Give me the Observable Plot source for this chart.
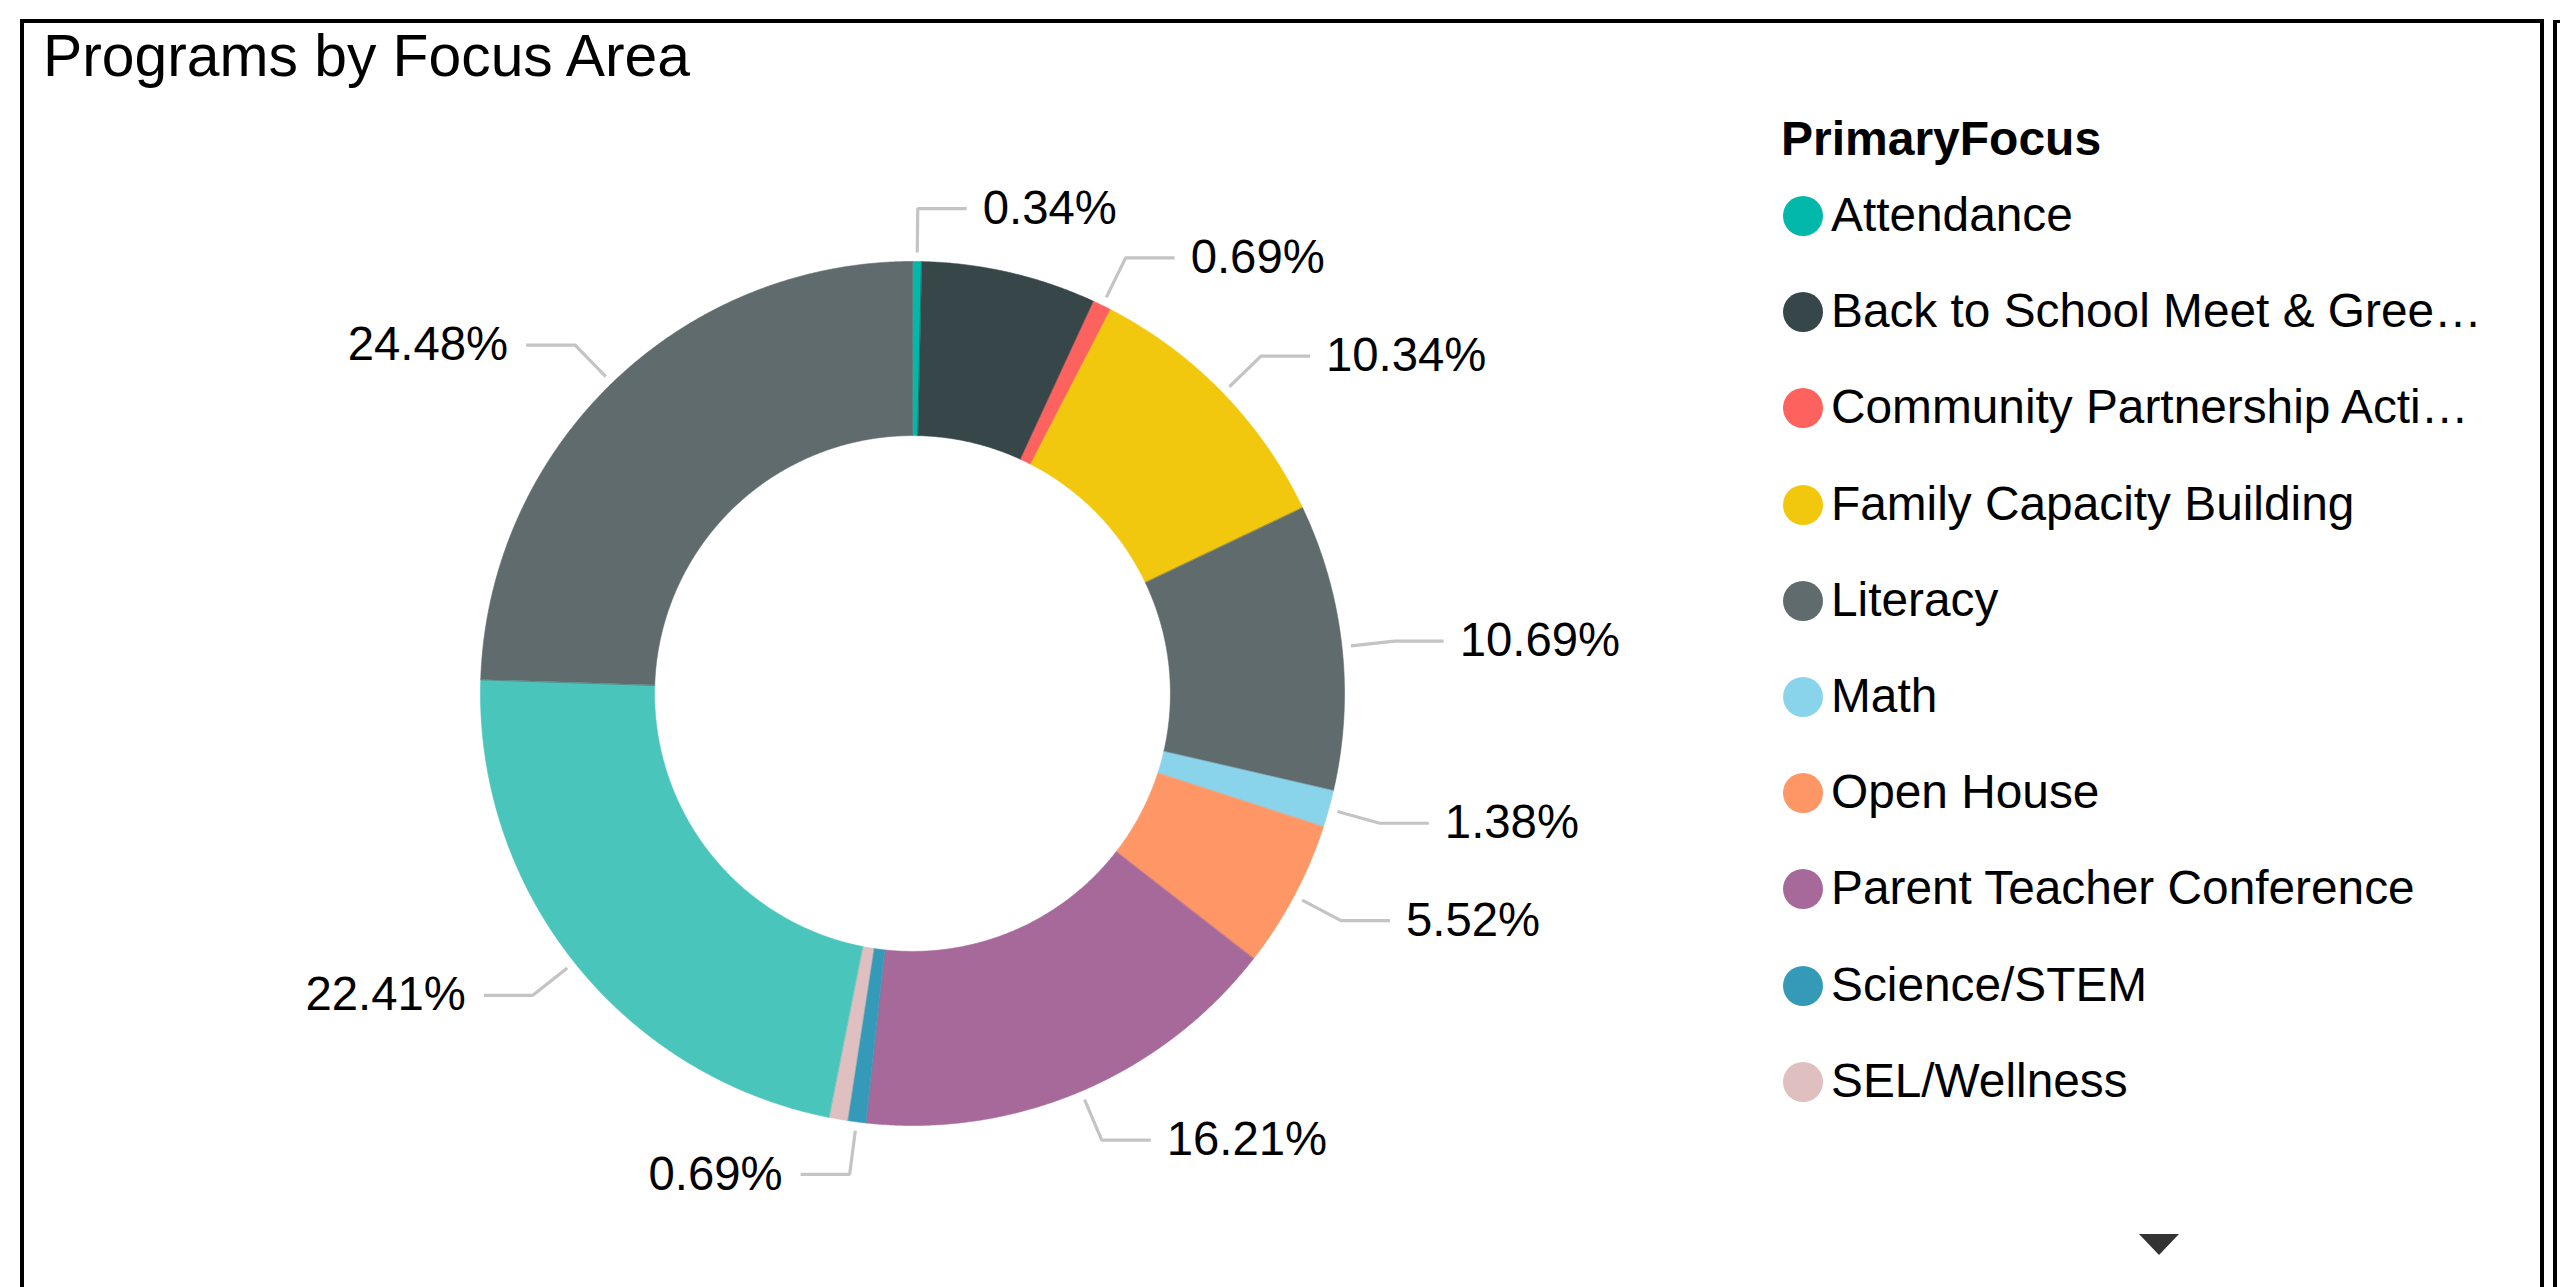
<!DOCTYPE html>
<html>
<head>
<meta charset="utf-8">
<script src="https://cdn.jsdelivr.net/npm/d3@7"></script>
<script src="https://cdn.jsdelivr.net/npm/@observablehq/plot@0.6"></script>
<style>
  html, body { margin: 0; padding: 0; background: #fff; }
  body { width: 2560px; height: 1287px; overflow: hidden; position: relative;
         font-family: "Liberation Sans", Arial, sans-serif; color: #000; }
  #frame { position: absolute; left: 20px; top: 19px; width: 2524px; height: 1400px;
           border: 4px solid #000; box-sizing: border-box; }
  #frame2 { position: absolute; left: 2553px; top: 20px; width: 100px; height: 1400px;
            border-left: 4px solid #000; border-top: 3px solid #000; box-sizing: border-box; }
  #title { position: absolute; left: 43px; top: 27px; font-size: 58.8px; line-height: 58.8px; white-space: nowrap; }
  #chart { position: absolute; left: 0; top: 0; }
  #legend-title { position: absolute; left: 1781px; top: 115px; font-size: 48px; line-height: 47px; font-weight: bold; white-space: nowrap; }
  .lg-dot { position: absolute; width: 40px; height: 40px; border-radius: 50%; }
  .lg-text { position: absolute; font-size: 47.8px; line-height: 47px; white-space: nowrap; }
  #arrow { position: absolute; left: 2139px; top: 1234px; width: 0; height: 0;
           border-left: 20px solid transparent; border-right: 20px solid transparent; border-top: 21px solid #333; }
</style>
</head>
<body>
<div id="frame"></div>
<div id="frame2"></div>
<div id="title">Programs by Focus Area</div>
<div id="chart"></div>
<div id="legend-title">PrimaryFocus</div>
<div id="legend"></div>
<div id="arrow"></div>
<script>
// ---- data ----
const categories = [
  "Attendance",
  "Back to School Meet & Greet Night",
  "Community Partnership Activities",
  "Family Capacity Building",
  "Literacy",
  "Math",
  "Open House",
  "Parent Teacher Conference",
  "Science/STEM",
  "SEL/Wellness",
  "Student Engagement",
  "Whole Child Support"
];
const programCounts = [1, 19, 2, 30, 31, 4, 16, 47, 2, 2, 65, 71];
const sliceColors = [
  "#01B8AA", "#374649", "#FD625E", "#F2C80F", "#5F6B6D", "#8AD4EB",
  "#FE9666", "#A66999", "#3599B8", "#DFBFBF", "#4AC5BB", "#5F6B6D"
];
const legendVisibleCount = 10;

// ---- layout ----
const cx = 912, cy = 693, R = 432;
const INNER = 0.597;
const LEAD_START = 441 / R, LEAD_ELBOW = 485 / R, LEAD_HORIZ = 49 / R;
const LABEL_FONT = 47.3;
const LEGEND_FONT = 47.8;
const LEGEND_MAX_W = 658;

const total = d3.sum(programCounts);
const arcs = d3.pie().sort(null).value(d => d)(programCounts);

// slice polygons (unit coordinates, y up)
const slicePts = [];
arcs.forEach((a, i) => {
  const n = Math.max(2, Math.ceil((a.endAngle - a.startAngle) / (Math.PI / 720)));
  for (let k = 0; k <= n; k++) {
    const t = a.startAngle + (a.endAngle - a.startAngle) * k / n;
    slicePts.push({name: categories[i], x: Math.sin(t), y: Math.cos(t)});
  }
  for (let k = n; k >= 0; k--) {
    const t = a.startAngle + (a.endAngle - a.startAngle) * k / n;
    slicePts.push({name: categories[i], x: INNER * Math.sin(t), y: INNER * Math.cos(t)});
  }
});

// labels with simple collision avoidance
const ctx = document.createElement("canvas").getContext("2d");
ctx.font = `${LABEL_FONT}px "Liberation Sans", Arial, sans-serif`;
const placed = [];
const labels = [];
const leaderPts = [];
arcs.forEach((a, i) => {
  const mid = (a.startAngle + a.endAngle) / 2;
  const s = Math.sin(mid), c = Math.cos(mid);
  const right = s >= 0;
  const text = (programCounts[i] / total * 100).toFixed(2) + "%";
  const ex = LEAD_ELBOW * s, ey = LEAD_ELBOW * c;
  const hx = ex + (right ? LEAD_HORIZ : -LEAD_HORIZ);
  const w = ctx.measureText(text).width;
  const px = cx + R * hx + (right ? 16 : -18);
  const py = cy - R * ey;
  const box = right ? [px, px + w] : [px - w, px];
  const hit = placed.some(b => Math.abs(b.y - py) < 40 && b.x0 < box[1] && box[0] < b.x1);
  if (hit) return;
  placed.push({x0: box[0], x1: box[1], y: py});
  labels.push({name: categories[i], x: hx, y: ey, text, right});
  leaderPts.push({name: categories[i], x: LEAD_START * s, y: LEAD_START * c});
  leaderPts.push({name: categories[i], x: ex, y: ey});
  leaderPts.push({name: categories[i], x: hx, y: ey});
});

const chart = Plot.plot({
  width: 1760,
  height: 1287,
  margin: 0,
  x: {domain: [-1, 1], range: [cx - R, cx + R], axis: null},
  y: {domain: [-1, 1], range: [cy + R, cy - R], axis: null},
  color: {domain: categories, range: sliceColors},
  style: {background: "transparent", fontFamily: "'Liberation Sans', Arial, sans-serif", overflow: "visible"},
  marks: [
    Plot.line(slicePts, {x: "x", y: "y", z: "name", fill: "name", stroke: "name", strokeWidth: 0.6, curve: "linear-closed"}),
    Plot.line(leaderPts, {x: "x", y: "y", z: "name", stroke: "#C4C4C4", strokeWidth: 3.2, strokeLinejoin: "miter", strokeLinecap: "butt"}),
    Plot.text(labels.filter(d => d.right), {x: "x", y: "y", text: "text", textAnchor: "start", dx: 16, fontSize: LABEL_FONT, fill: "#000"}),
    Plot.text(labels.filter(d => !d.right), {x: "x", y: "y", text: "text", textAnchor: "end", dx: -18, fontSize: LABEL_FONT, fill: "#000"})
  ]
});
document.getElementById("chart").appendChild(chart);

// legend (truncate long names with an ellipsis, like the original)
const lctx = document.createElement("canvas").getContext("2d");
lctx.font = `${LEGEND_FONT}px "Liberation Sans", Arial, sans-serif`;
function fit(name) {
  if (lctx.measureText(name).width <= LEGEND_MAX_W) return name;
  let s = name;
  while (s.length > 1 && lctx.measureText(s + "…").width > LEGEND_MAX_W) s = s.slice(0, -1);
  return s.replace(/\s+$/, "") + "…";
}
const legend = document.getElementById("legend");
categories.slice(0, legendVisibleCount).forEach((name, i) => {
  const center = 213.9 + 96.2 * i;
  const dot = document.createElement("div");
  dot.className = "lg-dot";
  dot.style.left = "1783px";
  dot.style.top = (center + 2 - 20) + "px";
  dot.style.background = sliceColors[i];
  legend.appendChild(dot);
  const t = document.createElement("div");
  t.className = "lg-text";
  t.style.left = "1831px";
  t.style.top = (center + 16.5 - 39.5) + "px";
  t.textContent = fit(name);
  legend.appendChild(t);
});
</script>
</body>
</html>
